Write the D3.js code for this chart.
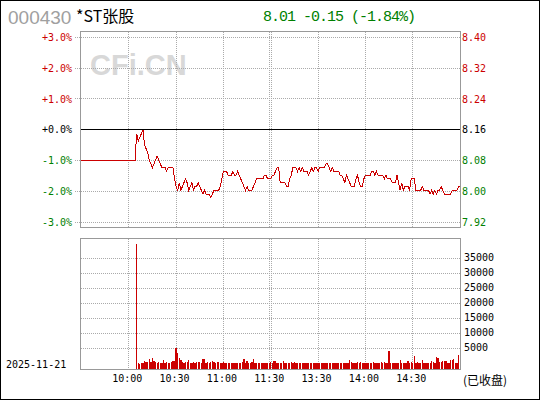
<!DOCTYPE html>
<html>
<head>
<meta charset="utf-8">
<script src="https://cdn.jsdelivr.net/npm/d3@7"></script>
<style>
html, body { margin: 0; padding: 0; background: #fff; }
svg { display: block; }
text { font-family: "DejaVu Sans Mono", monospace; font-size: 10px; }
</style>
</head>
<body>
<svg id="chart" width="540" height="400"></svg>
<script>
var code = '000430', name = '*ST张股', date = '2025-11-21', status = '(已收盘)';
var prevClose = 8.16;
var pctTicks = [3, 2, 1, 0, -1, -2, -3];
var volTicks = [35000, 30000, 25000, 20000, 15000, 10000, 5000];
var timeTicks = [30, 60, 90, 120, 150, 180, 210];   // minutes from 9:30
var timeLabels = ['10:00', '10:30', '11:00', '11:30', '13:30', '14:00', '14:30'];

// one price per minute, 9:30 .. 15:00 (halted until 10:05)
var price = [
  8.08, 8.08, 8.08, 8.08, 8.08, 8.08, 8.08, 8.08, 8.08, 8.08,
  8.08, 8.08, 8.08, 8.08, 8.08, 8.08, 8.08, 8.08, 8.08, 8.08,
  8.08, 8.08, 8.08, 8.08, 8.08, 8.08, 8.08, 8.08, 8.08, 8.08,
  8.08, 8.08, 8.08, 8.08, 8.08, 8.15, 8.13, 8.14, 8.15, 8.16,
  8.12, 8.11, 8.10, 8.08, 8.07, 8.06, 8.07, 8.08, 8.09, 8.08,
  8.07, 8.06, 8.06, 8.06, 8.05, 8.06, 8.06, 8.06, 8.06, 8.03,
  8.01, 8.00, 8.02, 8.00, 8.01, 8.02, 8.03, 8.02, 8.00, 8.01,
  8.02, 8.00, 8.01, 8.01, 8.02, 8.01, 8.00, 7.99, 8.00, 7.99,
  7.99, 7.99, 7.98, 7.99, 8.00, 8.00, 8.00, 8.00, 8.01, 8.03,
  8.05, 8.05, 8.05, 8.04, 8.04, 8.04, 8.05, 8.04, 8.04, 8.05,
  8.04, 8.03, 8.02, 8.01, 8.00, 8.01, 8.00, 8.00, 8.00, 8.01,
  8.02, 8.03, 8.03, 8.03, 8.03, 8.03, 8.04, 8.04, 8.03, 8.03,
  8.03, 8.04, 8.04, 8.05, 8.06, 8.06, 8.02, 8.02, 8.02, 8.02,
  8.01, 8.01, 8.03, 8.04, 8.06, 8.06, 8.06, 8.05, 8.06, 8.05,
  8.06, 8.05, 8.05, 8.05, 8.04, 8.05, 8.06, 8.05, 8.06, 8.06,
  8.05, 8.06, 8.06, 8.06, 8.06, 8.07, 8.07, 8.06, 8.05, 8.06,
  8.05, 8.05, 8.05, 8.05, 8.04, 8.04, 8.03, 8.02, 8.04, 8.03,
  8.02, 8.01, 8.01, 8.01, 8.03, 8.04, 8.02, 8.01, 8.01, 8.03,
  8.04, 8.04, 8.04, 8.04, 8.05, 8.05, 8.04, 8.05, 8.04, 8.04,
  8.04, 8.04, 8.03, 8.04, 8.03, 8.03, 8.03, 8.02, 8.02, 8.02,
  8.04, 8.02, 8.00, 8.02, 8.00, 8.01, 8.01, 8.01, 8.00, 8.03,
  8.03, 8.03, 8.00, 8.00, 8.00, 8.00, 8.01, 8.00, 8.00, 8.00,
  8.00, 7.99, 8.00, 7.99, 8.00, 7.99, 8.00, 8.00, 8.01, 8.00,
  7.99, 7.99, 7.99, 7.99, 7.99, 8.00, 8.00, 8.00, 8.00, 8.01,
  8.01
];

// volume per minute, starting at minute 35 (10:05)
var volStart = 35;
var volume = [
  41800, 2000, 1800, 2000, 2000, 2800, 2400, 2400, 3500, 2400,
  3800, 2900, 2400, 2200, 2400, 2100, 2100, 3100, 2100, 2400,
  2100, 2100, 2400, 2800, 2800, 7100, 5300, 3800, 3100, 2400,
  2100, 2400, 2400, 3100, 2100, 2100, 2400, 2100, 2400, 2400,
  2400, 2100, 3400, 3400, 2100, 2400, 2100, 2400, 2800, 2400,
  2100, 2400, 2400, 2100, 2100, 2400, 2100, 2100, 2100, 2100,
  2100, 2100, 2100, 2100, 2100, 2100, 2100, 2400, 3400, 2100,
  2800, 2100, 2100, 2400, 3400, 2100, 2100, 2100, 2100, 2100,
  2100, 2100, 2100, 2100, 2100, 2400, 2100, 2800, 2800, 2100,
  2100, 2100, 2100, 2800, 2100, 2100, 2100, 2100, 2400, 2100,
  2400, 2100, 2100, 2100, 2100, 2100, 2100, 2100, 2100, 2100,
  2100, 2100, 2100, 2100, 2100, 2100, 2100, 2100, 2100, 2100,
  2100, 2100, 2100, 2100, 2100, 2100, 2100, 2100, 2100, 2100,
  2100, 2100, 2100, 2100, 2100, 3100, 2400, 2100, 2100, 2100,
  2400, 2100, 2400, 2100, 2100, 2100, 2100, 2100, 2100, 2100,
  2400, 2100, 2100, 2100, 2100, 2400, 2100, 2400, 2100, 2100,
  6100, 2100, 2100, 2100, 2100, 2100, 2100, 3100, 2100, 2100,
  2100, 2100, 2800, 2100, 2400, 2100, 4400, 2100, 2400, 2100,
  2100, 3100, 2100, 2100, 2100, 2100, 2100, 2800, 2400, 2100,
  4100, 3800, 2400, 2400, 2800, 2800, 2800, 2100, 2100, 3100,
  3100, 3400, 2100, 2100, 4800
];

var RED = '#cc0000', GREEN = '#008000', GRID = '#aaaaaa', FRAME = '#999999';

function pct(p) { return (p / prevClose - 1) * 100; }
function px(v) { return Math.floor(v) + 0.5; }
function colorOf(v) { return v > 0 ? RED : (v < 0 ? GREEN : '#000'); }

var svg = d3.select('#chart');

var x = d3.scaleLinear().domain([0, 240]).range([81.4, 460.1]);
var y = d3.scaleLinear().domain([-3.2, 3.2]).range([228.5, 31.1]);
// bars grow from the panel floor; the source puts its grid labels 6px above that
var yVol = d3.scaleLinear().domain([0, 43670]).range([369.3, 238.3]);
var yVolTick = d3.scaleLinear().domain([5000, 35000]).range([348.5, 258.5]);

svg.append('rect')
    .attr('x', 0.5).attr('y', 0.5).attr('width', 539).attr('height', 399)
    .attr('fill', '#fff').attr('stroke', '#000');

// HEADER
svg.append('text')
    .attr('x', 8).attr('y', 24)
    .style('font-family', '"Liberation Sans", Arial, sans-serif')
    .style('font-size', '19px')
    .attr('fill', '#a0a0a0')
    .text(code);
svg.append('text')
    .attr('x', 76).attr('y', 22)
    .style('font-family', '"Noto Sans CJK SC", sans-serif')
    .style('font-size', '16px')
    .attr('fill', '#000')
    .text(name);

var last = price[price.length - 1];
var chg = last - prevClose;
svg.append('text')
    .attr('x', 263).attr('y', 21)
    .style('font-family', '"Liberation Mono", monospace')
    .style('font-size', '15px')
    .style('letter-spacing', '-1px')
    .attr('fill', colorOf(chg))
    .text(last.toFixed(2) + ' ' + chg.toFixed(2) + ' (' + (chg / prevClose * 100).toFixed(2) + '%)');

// watermark
svg.append('text')
    .attr('x', 90).attr('y', 75)
    .style('font-family', '"Liberation Sans", Arial, sans-serif')
    .style('font-size', '29px')
    .style('font-weight', 'bold')
    .attr('fill', '#d8d8d8')
    .text('CFi.CN');

// GRID AND FRAMES

var grid = svg.append('g')
    .attr('stroke', GRID)
    .attr('stroke-dasharray', '1,1')
    .attr('shape-rendering', 'crispEdges');

grid.selectAll('.hgrid')
    .data(pctTicks.filter(function(d) { return d != 0; }))
    .enter().append('line')
    .attr('x1', 75).attr('x2', 460)
    .attr('y1', function(d) { return px(y(d)); })
    .attr('y2', function(d) { return px(y(d)); });

// lunch break: 11:30 and 13:00 sit side by side
var vgrid = [];
timeTicks.forEach(function(t) {
    if(t == 120) { vgrid.push(Math.floor(x(t)) - 1); vgrid.push(Math.floor(x(t)) + 1); }
    else vgrid.push(Math.floor(x(t)));
});

[[32, 227], [239, 369]].forEach(function(r) {
    grid.selectAll(null)
        .data(vgrid)
        .enter().append('line')
        .attr('x1', function(d) { return d + 0.5; })
        .attr('x2', function(d) { return d + 0.5; })
        .attr('y1', r[0]).attr('y2', r[1]);
});

grid.selectAll('.vol-grid')
    .data(volTicks)
    .enter().append('line')
    .attr('x1', 81).attr('x2', 460)
    .attr('y1', function(d) { return px(yVolTick(d)); })
    .attr('y2', function(d) { return px(yVolTick(d)); });

svg.append('line')
    .attr('x1', 80).attr('x2', 460)
    .attr('y1', px(y(0))).attr('y2', px(y(0)))
    .attr('stroke', '#000')
    .attr('shape-rendering', 'crispEdges');

svg.append('rect')
    .attr('x', 80.5).attr('y', 31.5).attr('width', 380).attr('height', 196)
    .attr('fill', 'none').attr('stroke', FRAME)
    .attr('shape-rendering', 'crispEdges');
svg.append('rect')
    .attr('x', 80.5).attr('y', 238.5).attr('width', 380).attr('height', 131)
    .attr('fill', 'none').attr('stroke', FRAME)
    .attr('shape-rendering', 'crispEdges');

// PRICE LINE

var line = d3.line()
    .x(function(d, i) { return x(i); })
    .y(function(d) { return y(pct(d)); });

svg.append('path')
    .datum(price)
    .attr('d', line)
    .attr('fill', 'none')
    .attr('stroke', RED)
    .attr('stroke-width', 1)
    .attr('shape-rendering', 'crispEdges');

svg.selectAll('.lab-left')
    .data(pctTicks)
    .enter().append('text')
    .attr('x', 72)
    .attr('y', function(d) { return y(d); })
    .attr('dy', '0.36em')
    .attr('text-anchor', 'end')
    .attr('fill', colorOf)
    .text(function(d) { return (d < 0 ? '-' : '+') + Math.abs(d).toFixed(1) + '%'; });

svg.selectAll('.lab-right')
    .data(pctTicks)
    .enter().append('text')
    .attr('x', 462)
    .attr('y', function(d) { return y(d); })
    .attr('dy', '0.36em')
    .attr('fill', colorOf)
    .text(function(d) { return (prevClose * (1 + d / 100)).toFixed(2); });

// VOLUME BARS

svg.append('g')
    .attr('fill', RED)
    .attr('shape-rendering', 'crispEdges')
    .selectAll('rect')
    .data(volume)
    .enter().append('rect')
    .attr('x', function(d, i) { return x(volStart + i) - 0.6; })
    .attr('width', 1.3)
    .attr('y', function(d) { return Math.round(yVol(d)); })
    .attr('height', function(d) { return 369 - Math.round(yVol(d)); });

svg.selectAll('.lab-vol')
    .data(volTicks)
    .enter().append('text')
    .attr('x', 464)
    .attr('y', function(d) { return yVolTick(d) - 1; })
    .attr('dy', '0.36em')
    .attr('fill', '#000')
    .text(function(d) { return d; });

svg.selectAll('.lab-time')
    .data(timeTicks)
    .enter().append('text')
    .attr('x', function(d) { return x(d) - 1.5; })
    .attr('y', 382)
    .attr('text-anchor', 'middle')
    .attr('fill', '#000')
    .text(function(d, i) { return timeLabels[i]; });

svg.append('text')
    .attr('x', 6).attr('y', 368)
    .attr('fill', '#000')
    .text(date);

svg.append('text')
    .attr('x', 463).attr('y', 385)
    .style('font-family', '"Noto Sans CJK SC", sans-serif')
    .style('font-size', '12px')
    .attr('fill', '#000')
    .text(status);
</script>
</body>
</html>
